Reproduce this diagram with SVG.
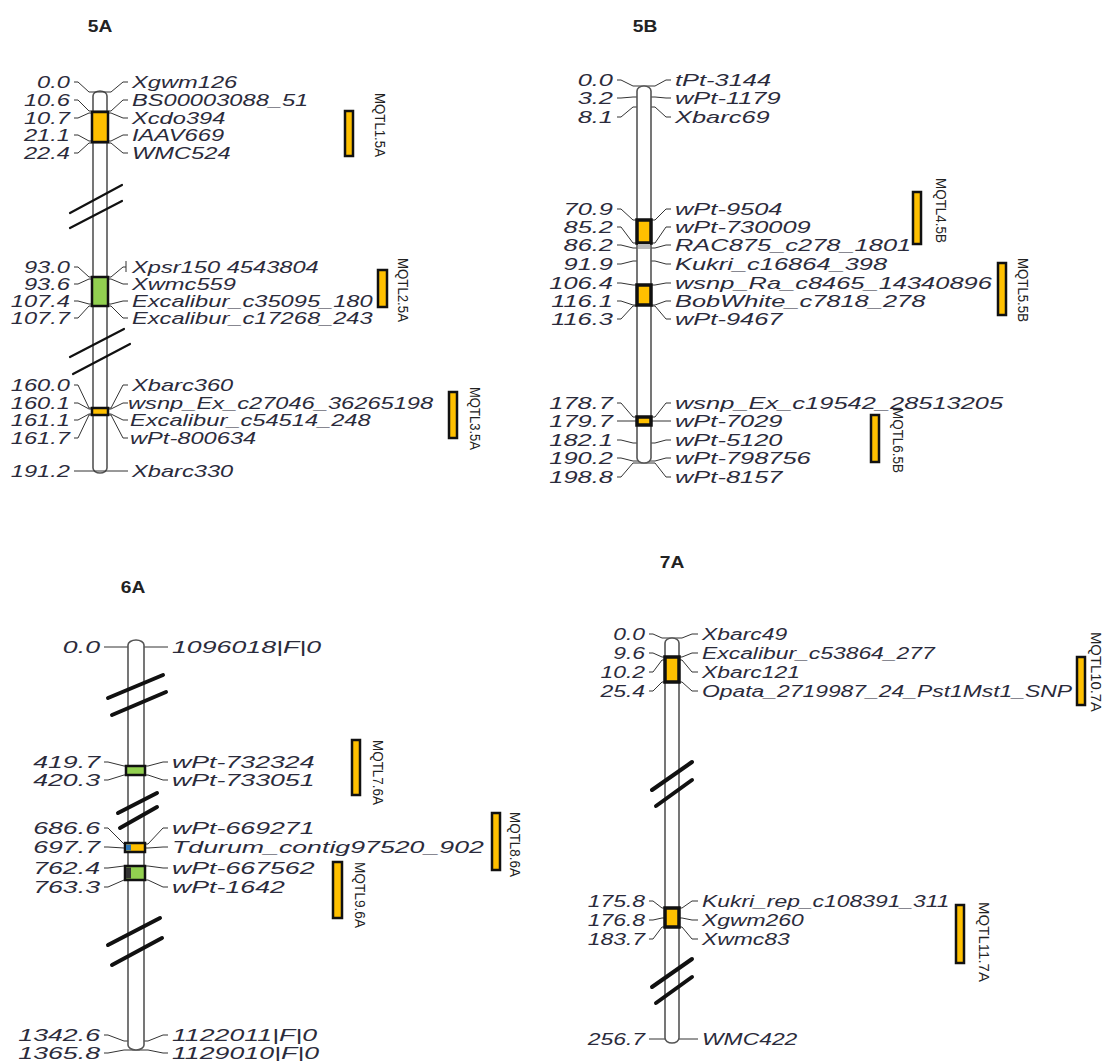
<svg xmlns="http://www.w3.org/2000/svg" width="1117" height="1061" viewBox="0 0 1117 1061">
<style>
.n{font-family:"Liberation Sans",Arial,sans-serif;font-style:italic;font-size:16px;fill:#2b2b3b;text-anchor:end}
.m{font-family:"Liberation Sans",Arial,sans-serif;font-style:italic;font-size:16px;fill:#2b2b3b;text-anchor:start}
.q{font-family:"Liberation Sans",Arial,sans-serif;font-size:14px;fill:#222}
.q7{font-family:"Liberation Sans",Arial,sans-serif;font-size:15.5px;fill:#222}
.t{font-family:"Liberation Sans",Arial,sans-serif;font-weight:bold;font-size:16px;fill:#222;text-anchor:middle}
.tube{fill:#fff;stroke:#555;stroke-width:1.6}
.con{fill:none;stroke:#333;stroke-width:1}
.brk{stroke:#111;stroke-width:2.2;stroke-linecap:round}
.brk2{stroke:#111;stroke-width:4;stroke-linecap:round}
.or{fill:#FFC000;stroke:#111;stroke-width:2.5}
.or3{fill:#FFC000;stroke:#111;stroke-width:3.5}
.gr{fill:#92D050;stroke:#111;stroke-width:2.5}
.bar{fill:#FFC000;stroke:#111;stroke-width:2.5}
.band{fill:#bbb;stroke:none}
</style>

<!-- Chromosome 5A -->
<g id="chr-5A">
<text class="t" transform="translate(100,32) scale(1.2,1)">5A</text>
<rect class="tube" x="93" y="91" width="14" height="382" rx="7" ry="5"/>
<line class="brk" x1="70" y1="213" x2="122" y2="185"/>
<line class="brk" x1="70" y1="228" x2="122" y2="201"/>
<line class="brk" x1="70" y1="357" x2="124" y2="329"/>
<line class="brk" x1="73" y1="374" x2="130" y2="344"/>
</g>

<g id="connectors">
<path class="con" d="M74,82 L78,82 L89,92 L111,92 L123,82 L128,82"/>
<path class="con" d="M74,100 L78,100 L89,111 L111,111 L123,100 L128,100"/>
<path class="con" d="M74,118 L78,118 L89,113 L111,113 L123,118 L128,118"/>
<path class="con" d="M74,135 L78,135 L89,141 L111,141 L123,135 L128,135"/>
<path class="con" d="M74,153 L78,153 L89,143 L111,143 L123,153 L128,153"/>
<path class="con" d="M74,267 L78,267 L89,277 L111,277 L123,267 L126,267 M126,261 L126,272"/>
<path class="con" d="M74,284 L78,284 L89,279 L111,279 L123,284 L128,284"/>
<path class="con" d="M74,301 L78,301 L89,304 L111,304 L123,301 L128,301"/>
<path class="con" d="M74,318 L78,318 L89,306 L111,306 L123,318 L128,318"/>
<path class="con" d="M74,385 L78,385 L89,408 L111,408 L123,385 L128,385"/>
<path class="con" d="M74,403 L78,403 L89,409 L111,409 L123,403 L128,403"/>
<path class="con" d="M74,420 L78,420 L89,414 L111,414 L123,420 L128,420"/>
<path class="con" d="M74,438 L78,438 L89,415 L111,415 L123,438 L128,438"/>
<path class="con" d="M74,471 L128,471"/>

<path class="con" d="M617,80 L621,80 L633,86 L655,86 L666,80 L671,80"/>
<path class="con" d="M617,98 L621,98 L633,97 L655,97 L666,98 L671,98"/>
<path class="con" d="M617,117 L621,117 L633,107 L655,107 L666,117 L671,117"/>
<path class="con" d="M617,209 L621,209 L633,220 L655,220 L666,209 L671,209"/>
<path class="con" d="M617,227 L621,227 L633,243 L655,243 L666,227 L671,227"/>
<path class="con" d="M617,245 L621,245 L633,248 L655,248 L666,245 L671,245"/>
<path class="con" d="M617,264 L621,264 L633,261 L655,261 L666,264 L671,264"/>
<path class="con" d="M617,283 L621,283 L633,285 L655,285 L666,283 L671,283"/>
<path class="con" d="M617,301 L621,301 L633,305 L655,305 L666,301 L671,301"/>
<path class="con" d="M617,319 L621,319 L633,306 L655,306 L666,319 L671,319"/>
<path class="con" d="M617,403 L621,403 L633,417 L655,417 L666,403 L671,403"/>
<path class="con" d="M617,421 L621,421 L633,421 L655,421 L666,421 L671,421"/>
<path class="con" d="M617,440 L621,440 L633,443 L655,443 L666,440 L671,440"/>
<path class="con" d="M617,458 L621,458 L633,461 L655,461 L666,458 L671,458"/>
<path class="con" d="M617,477 L621,477 L633,463 L655,463 L666,477 L671,477"/>

<path class="con" d="M104,647 L168,647"/>
<path class="con" d="M104,762 L108,762 L124,766 L148,766 L163,762 L168,762"/>
<path class="con" d="M104,780 L108,780 L124,775 L148,775 L163,780 L168,780"/>
<path class="con" d="M104,828 L108,828 L124,844 L148,844 L163,828 L168,828"/>
<path class="con" d="M104,847 L108,847 L124,848 L148,848 L163,847 L168,847"/>
<path class="con" d="M104,868 L108,868 L124,866 L148,866 L163,868 L168,868"/>
<path class="con" d="M104,887 L108,887 L124,880 L148,880 L163,887 L168,887"/>
<path class="con" d="M104,1035 L108,1035 L124,1041 L148,1041 L163,1035 L168,1035"/>
<path class="con" d="M104,1053 L108,1053 L124,1050 L148,1050 L163,1053 L168,1053"/>

<path class="con" d="M649,634 L653,634 L662,638 L682,638 L692,634 L698,634"/>
<path class="con" d="M649,653 L653,653 L662,657 L682,657 L692,653 L698,653"/>
<path class="con" d="M649,672 L653,672 L662,660 L682,660 L692,672 L698,672"/>
<path class="con" d="M649,691 L653,691 L662,682 L682,682 L692,691 L698,691"/>
<path class="con" d="M649,901 L653,901 L662,908 L682,908 L692,901 L698,901"/>
<path class="con" d="M649,920 L653,920 L662,918 L682,918 L692,920 L698,920"/>
<path class="con" d="M649,939 L653,939 L662,927 L682,927 L692,939 L698,939"/>
<path class="con" d="M649,1039 L698,1039"/>
</g>

<g id="boxes-5A">
<rect class="or" x="92" y="112" width="16" height="30"/>
<rect class="gr" x="92" y="277" width="16" height="29"/>
<rect class="or" x="92" y="408" width="16" height="7"/>
</g>

<g id="labels-5A">
<text class="n" transform="translate(70,87.5) scale(1.48,1)">0.0</text>
<text class="n" transform="translate(70,105.5) scale(1.48,1)">10.6</text>
<text class="n" transform="translate(70,123.5) scale(1.48,1)">10.7</text>
<text class="n" transform="translate(70,140.5) scale(1.48,1)">21.1</text>
<text class="n" transform="translate(70,158.5) scale(1.48,1)">22.4</text>
<text class="n" transform="translate(70,272.5) scale(1.48,1)">93.0</text>
<text class="n" transform="translate(70,289.5) scale(1.48,1)">93.6</text>
<text class="n" transform="translate(70,306.5) scale(1.48,1)">107.4</text>
<text class="n" transform="translate(70,323.5) scale(1.48,1)">107.7</text>
<text class="n" transform="translate(70,390.5) scale(1.48,1)">160.0</text>
<text class="n" transform="translate(70,408.5) scale(1.48,1)">160.1</text>
<text class="n" transform="translate(70,425.5) scale(1.48,1)">161.1</text>
<text class="n" transform="translate(70,443.5) scale(1.48,1)">161.7</text>
<text class="n" transform="translate(70,476.5) scale(1.48,1)">191.2</text>
<text class="m" transform="translate(132,87.5) scale(1.48,1)">Xgwm126</text>
<text class="m" transform="translate(132,105.5) scale(1.48,1)">BS00003088_51</text>
<text class="m" transform="translate(132,123.5) scale(1.48,1)">Xcdo394</text>
<text class="m" transform="translate(132,140.5) scale(1.48,1)">IAAV669</text>
<text class="m" transform="translate(132,158.5) scale(1.48,1)">WMC524</text>
<text class="m" transform="translate(132,272.5) scale(1.48,1)">Xpsr150 4543804</text>
<text class="m" transform="translate(132,289.5) scale(1.48,1)">Xwmc559</text>
<text class="m" transform="translate(132,306.5) scale(1.48,1)">Excalibur_c35095_180</text>
<text class="m" transform="translate(132,323.5) scale(1.48,1)">Excalibur_c17268_243</text>
<text class="m" transform="translate(132,390.5) scale(1.48,1)">Xbarc360</text>
<text class="m" transform="translate(128,408.5) scale(1.48,1)">wsnp_Ex_c27046_36265198</text>
<text class="m" transform="translate(130,425.5) scale(1.48,1)">Excalibur_c54514_248</text>
<text class="m" transform="translate(130,443.5) scale(1.48,1)">wPt-800634</text>
<text class="m" transform="translate(132,476.5) scale(1.48,1)">Xbarc330</text>
</g>

<g id="qtl-MQTL1.5A"><rect class="bar" x="345" y="111" width="8" height="45"/><text class="q" transform="translate(375,93) rotate(90)" textLength="64" lengthAdjust="spacingAndGlyphs">MQTL1.5A</text></g>
<g id="qtl-MQTL2.5A"><rect class="bar" x="378" y="270" width="9" height="37"/><text class="q" transform="translate(398,258) rotate(90)" textLength="64" lengthAdjust="spacingAndGlyphs">MQTL2.5A</text></g>
<g id="qtl-MQTL3.5A"><rect class="bar" x="449" y="392" width="8" height="46"/><text class="q" transform="translate(470,387) rotate(90)" textLength="63" lengthAdjust="spacingAndGlyphs">MQTL3.5A</text></g>

<!-- Chromosome 5B -->
<g id="chr-5B">
<text class="t" transform="translate(645,32) scale(1.2,1)">5B</text>
<rect class="tube" x="637" y="86" width="14" height="377" rx="7" ry="5"/>
<rect class="or3" x="637" y="220" width="14" height="23"/>
<rect class="band" x="638" y="244" width="12" height="5"/>
<rect class="or3" x="637" y="285" width="14" height="20"/>
<rect class="or3" x="637" y="417" width="14" height="8"/>
</g>

<g id="labels-5B">
<text class="n" transform="translate(613,85.5) scale(1.59,1)">0.0</text>
<text class="n" transform="translate(613,103.5) scale(1.59,1)">3.2</text>
<text class="n" transform="translate(613,122.5) scale(1.59,1)">8.1</text>
<text class="n" transform="translate(613,214.5) scale(1.59,1)">70.9</text>
<text class="n" transform="translate(613,232.5) scale(1.59,1)">85.2</text>
<text class="n" transform="translate(613,250.5) scale(1.59,1)">86.2</text>
<text class="n" transform="translate(613,269.5) scale(1.59,1)">91.9</text>
<text class="n" transform="translate(613,288.5) scale(1.59,1)">106.4</text>
<text class="n" transform="translate(613,306.5) scale(1.59,1)">116.1</text>
<text class="n" transform="translate(613,324.5) scale(1.59,1)">116.3</text>
<text class="n" transform="translate(613,408.5) scale(1.59,1)">178.7</text>
<text class="n" transform="translate(613,426.5) scale(1.59,1)">179.7</text>
<text class="n" transform="translate(613,445.5) scale(1.59,1)">182.1</text>
<text class="n" transform="translate(613,463.5) scale(1.59,1)">190.2</text>
<text class="n" transform="translate(613,482.5) scale(1.59,1)">198.8</text>
<text class="m" transform="translate(675,85.5) scale(1.59,1)">tPt-3144</text>
<text class="m" transform="translate(675,103.5) scale(1.59,1)">wPt-1179</text>
<text class="m" transform="translate(675,122.5) scale(1.59,1)">Xbarc69</text>
<text class="m" transform="translate(675,214.5) scale(1.59,1)">wPt-9504</text>
<text class="m" transform="translate(675,232.5) scale(1.59,1)">wPt-730009</text>
<text class="m" transform="translate(675,250.5) scale(1.59,1)">RAC875_c278_1801</text>
<text class="m" transform="translate(675,269.5) scale(1.59,1)">Kukri_c16864_398</text>
<text class="m" transform="translate(675,288.5) scale(1.59,1)">wsnp_Ra_c8465_14340896</text>
<text class="m" transform="translate(675,306.5) scale(1.59,1)">BobWhite_c7818_278</text>
<text class="m" transform="translate(675,324.5) scale(1.59,1)">wPt-9467</text>
<text class="m" transform="translate(675,408.5) scale(1.59,1)">wsnp_Ex_c19542_28513205</text>
<text class="m" transform="translate(675,426.5) scale(1.59,1)">wPt-7029</text>
<text class="m" transform="translate(675,445.5) scale(1.59,1)">wPt-5120</text>
<text class="m" transform="translate(675,463.5) scale(1.59,1)">wPt-798756</text>
<text class="m" transform="translate(675,482.5) scale(1.59,1)">wPt-8157</text>
</g>

<g id="qtl-MQTL4.5B"><rect class="bar" x="913" y="192" width="8" height="52"/><text class="q" transform="translate(936,178) rotate(90)" textLength="65" lengthAdjust="spacingAndGlyphs">MQTL4.5B</text></g>
<g id="qtl-MQTL5.5B"><rect class="bar" x="998" y="263" width="8" height="52"/><text class="q" transform="translate(1018,258) rotate(90)" textLength="64" lengthAdjust="spacingAndGlyphs">MQTL5.5B</text></g>
<g id="qtl-MQTL6.5B"><rect class="bar" x="871" y="415" width="8" height="47"/><text class="q" transform="translate(893,408) rotate(90)" textLength="65" lengthAdjust="spacingAndGlyphs">MQTL6.5B</text></g>

<!-- Chromosome 6A -->
<g id="chr-6A">
<text class="t" transform="translate(133,593) scale(1.2,1)">6A</text>
<rect class="tube" x="128" y="640" width="16" height="410" rx="8" ry="5"/>
<line class="brk2" x1="108" y1="698" x2="163" y2="675"/>
<line class="brk2" x1="112" y1="715" x2="166" y2="692"/>
<line class="brk2" x1="118" y1="813" x2="157" y2="793"/>
<line class="brk2" x1="120" y1="828" x2="157" y2="807"/>
<line class="brk2" x1="108" y1="945" x2="160" y2="918"/>
<line class="brk2" x1="112" y1="965" x2="162" y2="938"/>
<rect class="gr" x="126" y="766" width="19" height="9"/>
<rect class="or" x="125" y="843" width="20" height="9"/>
<rect x="126" y="844.5" width="5" height="6" fill="#2e75b6"/>
<rect class="gr" x="125" y="866" width="20" height="14"/>
<rect x="126" y="867.5" width="5" height="11" fill="#333"/>
</g>

<g id="labels-6A">
<text class="n" transform="translate(100,652.5) scale(1.67,1)">0.0</text>
<text class="n" transform="translate(100,767.5) scale(1.67,1)">419.7</text>
<text class="n" transform="translate(100,785.5) scale(1.67,1)">420.3</text>
<text class="n" transform="translate(100,833.5) scale(1.67,1)">686.6</text>
<text class="n" transform="translate(100,852.5) scale(1.67,1)">697.7</text>
<text class="n" transform="translate(100,873.5) scale(1.67,1)">762.4</text>
<text class="n" transform="translate(100,892.5) scale(1.67,1)">763.3</text>
<text class="n" transform="translate(100,1040.5) scale(1.67,1)">1342.6</text>
<text class="n" transform="translate(100,1058.5) scale(1.67,1)">1365.8</text>
<text class="m" transform="translate(172,652.5) scale(1.67,1)">1096018|F|0</text>
<text class="m" transform="translate(172,767.5) scale(1.67,1)">wPt-732324</text>
<text class="m" transform="translate(172,785.5) scale(1.67,1)">wPt-733051</text>
<text class="m" transform="translate(172,833.5) scale(1.67,1)">wPt-669271</text>
<text class="m" transform="translate(172,852.5) scale(1.67,1)">Tdurum_contig97520_902</text>
<text class="m" transform="translate(172,873.5) scale(1.67,1)">wPt-667562</text>
<text class="m" transform="translate(172,892.5) scale(1.67,1)">wPt-1642</text>
<text class="m" transform="translate(172,1040.5) scale(1.67,1)">1122011|F|0</text>
<text class="m" transform="translate(172,1058.5) scale(1.67,1)">1129010|F|0</text>
</g>

<g id="qtl-MQTL7.6A"><rect class="bar" x="352" y="740" width="8" height="55"/><text class="q" transform="translate(373,740) rotate(90)" textLength="65" lengthAdjust="spacingAndGlyphs">MQTL7.6A</text></g>
<g id="qtl-MQTL8.6A"><rect class="bar" x="492" y="813" width="8" height="57"/><text class="q" transform="translate(510,812) rotate(90)" textLength="65" lengthAdjust="spacingAndGlyphs">MQTL8.6A</text></g>
<g id="qtl-MQTL9.6A"><rect class="bar" x="333" y="862" width="9" height="56"/><text class="q" transform="translate(355,862) rotate(90)" textLength="66" lengthAdjust="spacingAndGlyphs">MQTL9.6A</text></g>

<!-- Chromosome 7A -->
<g id="chr-7A">
<text class="t" transform="translate(672,568) scale(1.2,1)">7A</text>
<rect class="tube" x="665" y="638" width="14" height="405" rx="7" ry="5"/>
<line class="brk2" x1="652" y1="790" x2="692" y2="762"/>
<line class="brk2" x1="656" y1="806" x2="692" y2="780"/>
<line class="brk2" x1="652" y1="987" x2="692" y2="959"/>
<line class="brk2" x1="656" y1="1003" x2="692" y2="977"/>
<rect class="or3" x="665" y="657" width="14" height="25"/>
<rect class="or3" x="665" y="908" width="14" height="19"/>
</g>

<g id="labels-7A">
<text class="n" transform="translate(645,639.5) scale(1.43,1)">0.0</text>
<text class="n" transform="translate(645,658.5) scale(1.43,1)">9.6</text>
<text class="n" transform="translate(645,677.5) scale(1.43,1)">10.2</text>
<text class="n" transform="translate(645,696.5) scale(1.43,1)">25.4</text>
<text class="n" transform="translate(645,906.5) scale(1.43,1)">175.8</text>
<text class="n" transform="translate(645,925.5) scale(1.43,1)">176.8</text>
<text class="n" transform="translate(645,944.5) scale(1.43,1)">183.7</text>
<text class="n" transform="translate(645,1044.5) scale(1.43,1)">256.7</text>
<text class="m" transform="translate(702,639.5) scale(1.43,1)">Xbarc49</text>
<text class="m" transform="translate(702,658.5) scale(1.43,1)">Excalibur_c53864_277</text>
<text class="m" transform="translate(702,677.5) scale(1.43,1)">Xbarc121</text>
<text class="m" transform="translate(702,696.5) scale(1.43,1)">Opata_2719987_24_Pst1Mst1_SNP</text>
<text class="m" transform="translate(702,906.5) scale(1.43,1)">Kukri_rep_c108391_311</text>
<text class="m" transform="translate(702,925.5) scale(1.43,1)">Xgwm260</text>
<text class="m" transform="translate(702,944.5) scale(1.43,1)">Xwmc83</text>
<text class="m" transform="translate(702,1044.5) scale(1.43,1)">WMC422</text>
</g>

<g id="qtl-MQTL10.7A"><rect class="bar" x="1077" y="657" width="8" height="48"/><text class="q7" transform="translate(1091,632) rotate(90)" textLength="80" lengthAdjust="spacingAndGlyphs">MQTL10.7A</text></g>
<g id="qtl-MQTL11.7A"><rect class="bar" x="956" y="905" width="8" height="58"/><text class="q7" transform="translate(979,902) rotate(90)" textLength="80" lengthAdjust="spacingAndGlyphs">MQTL11.7A</text></g>
</svg>
